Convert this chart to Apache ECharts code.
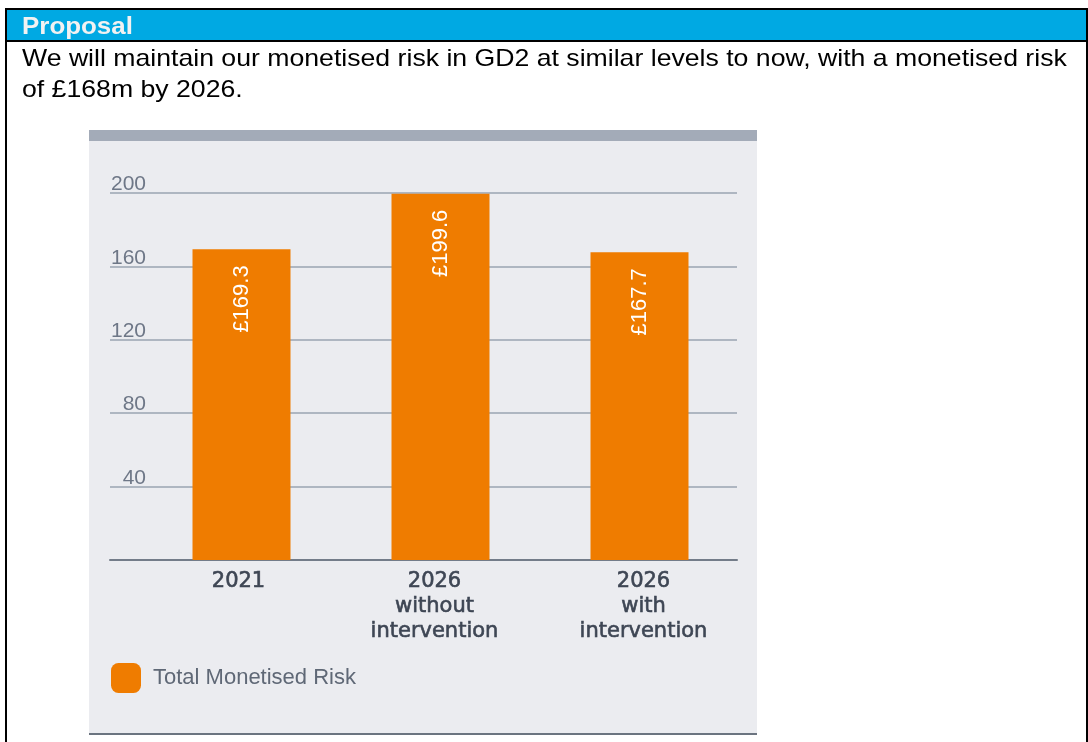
<!DOCTYPE html>
<html>
<head>
<meta charset="utf-8">
<script src="https://cdn.jsdelivr.net/npm/echarts@6/dist/echarts.min.js"></script>
<style>
html,body{margin:0;padding:0;background:#fff;}
#chart{width:1088px;height:742px;}
</style>
</head>
<body>
<div id="chart"></div>
<script>
const headerTitle = 'Proposal';
const paragraphLines = [
  'We will maintain our monetised risk in GD2 at similar levels to now, with a monetised risk',
  'of £168m by 2026.'
];
const categories = ['2021', '2026\nwithout\nintervention', '2026\nwith\nintervention'];
const seriesName = 'Total Monetised Risk';
const values = [169.3, 199.6, 167.7];
const yMin = 0, yMax = 200, yInterval = 40;

const labelStyleKeys = ['a', 'b', 'c'];

const chart = echarts.init(document.getElementById('chart'), null, {renderer: 'canvas'});
const xLabelBase = {fontFamily: '"DejaVu Sans", sans-serif', fontSize: 21, lineHeight: 25, color: '#3E4654', textBorderColor: '#3E4654', textBorderWidth: 0.6, align: 'center'};
const option = {
  backgroundColor: '#ffffff',
  animation: false,
  graphic: [
    {type: 'rect', z: 0, shape: {x: 89, y: 130, width: 668, height: 605}, style: {fill: '#EBECF0'}},
    {type: 'rect', z: 0, shape: {x: 89, y: 130, width: 668, height: 11}, style: {fill: '#A3ABB8'}},
    {type: 'rect', z: 0, shape: {x: 89, y: 733, width: 668, height: 2}, style: {fill: '#6B7480'}},
    {type: 'rect', z: 0, shape: {x: 7, y: 10, width: 1079, height: 30}, style: {fill: '#00A9E3'}},
    {type: 'rect', z: 1, shape: {x: 5, y: 8, width: 1083, height: 2}, style: {fill: '#000'}},
    {type: 'rect', z: 1, shape: {x: 5, y: 40, width: 1083, height: 2}, style: {fill: '#000'}},
    {type: 'rect', z: 1, shape: {x: 5, y: 8, width: 2, height: 734}, style: {fill: '#000'}},
    {type: 'rect', z: 1, shape: {x: 1086, y: 8, width: 2, height: 734}, style: {fill: '#000'}},
    {type: 'text', z: 2, x: 22, y: 27, scaleX: 1.08, style: {text: headerTitle, font: 'bold 24px "Liberation Sans", Arial, sans-serif', fill: '#F2F2F2', textVerticalAlign: 'middle'}},
    {type: 'text', z: 2, x: 22, y: 59, scaleX: 1.11, style: {text: paragraphLines[0], font: '24px "Liberation Sans", Arial, sans-serif', fill: '#000', textVerticalAlign: 'middle'}},
    {type: 'text', z: 2, x: 22, y: 90, scaleX: 1.11, style: {text: paragraphLines[1], font: '24px "Liberation Sans", Arial, sans-serif', fill: '#000', textVerticalAlign: 'middle'}}
  ],
  legend: {
    data: [seriesName],
    left: 111, top: 663,
    padding: 0,
    icon: 'roundRect',
    itemWidth: 30, itemHeight: 30,
    textStyle: {fontFamily: '"Liberation Sans", Arial, sans-serif', fontSize: 22, color: '#5F6876', padding: [6, 0, 0, 7]}
  },
  grid: [
    {left: 110, top: 193, width: 627, height: 367},
    {left: 142, top: 193, width: 597, height: 367}
  ],
  xAxis: [
    {gridIndex: 0, type: 'category', data: [''], axisLine: {show: true, lineStyle: {color: '#737C89', width: 2}}, axisTick: {show: false}, axisLabel: {show: false}, splitLine: {show: false}},
    {gridIndex: 1, type: 'category', data: categories, axisLine: {show: false}, axisTick: {show: false},
      axisLabel: {
        interval: 0, margin: 9,
        fontFamily: '"DejaVu Sans", sans-serif', fontSize: 21, lineHeight: 25, color: '#3E4654',
        formatter: (v, i) => v.split('\n').map(s => '{' + labelStyleKeys[i] + '|' + s + '}').join('\n'),
        rich: {
          a: Object.assign({}, xLabelBase, {padding: [0, 6, 0, 0]}),
          b: Object.assign({}, xLabelBase, {padding: [0, 12, 0, 0]}),
          c: Object.assign({}, xLabelBase, {padding: [0, 0, 0, 8]})
        }
      }}
  ],
  yAxis: [
    {gridIndex: 0, type: 'value', min: yMin, max: yMax, interval: yInterval,
      axisLine: {show: false}, axisTick: {show: false},
      splitLine: {show: true, lineStyle: {color: '#AEB6C1', width: 2}},
      axisLabel: {inside: true, showMinLabel: false, margin: 36, align: 'right', verticalAlign: 'bottom', lineHeight: 17, fontFamily: '"Liberation Sans", Arial, sans-serif', fontSize: 21, color: '#6E7787'}},
    {gridIndex: 1, type: 'value', min: yMin, max: yMax, interval: yInterval, show: false, splitLine: {show: false}}
  ],
  series: [{
    name: seriesName,
    type: 'bar',
    xAxisIndex: 1, yAxisIndex: 1,
    data: values,
    barWidth: 98,
    itemStyle: {color: '#EF7C00'},
    label: {
      show: true, position: 'insideTop', rotate: 90, align: 'right', verticalAlign: 'middle', distance: 16,
      formatter: p => '£' + p.value.toFixed(1),
      fontFamily: '"Liberation Sans", Arial, sans-serif', fontSize: 22, color: '#FFFFFF'
    }
  }]
};
chart.setOption(option);
</script>
</body>
</html>
